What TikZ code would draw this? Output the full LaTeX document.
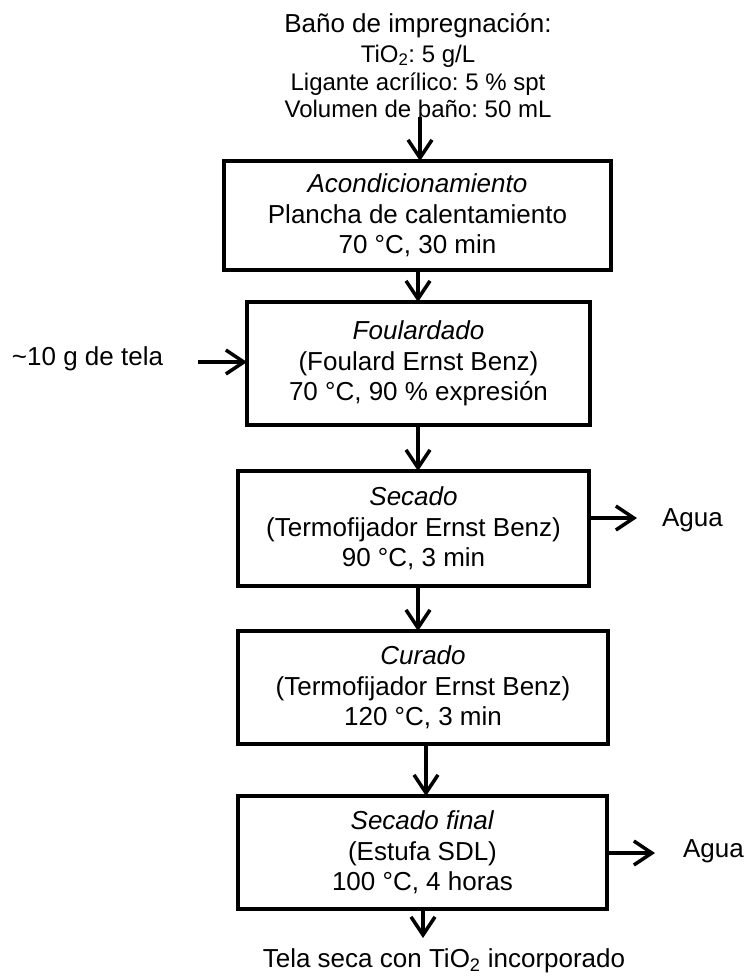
\documentclass[tikz,border=0pt]{standalone}
\usepackage{fontspec}
\setmainfont{Liberation Sans}
\usetikzlibrary{arrows.meta}
\frenchspacing
\begin{document}
\begin{tikzpicture}[x=1pt,y=-1pt,
  every node/.style={inner sep=0pt, outer sep=0pt},
  bigtxt/.style={font=\fontsize{26}{30.5}\selectfont},
  smalltxt/.style={font=\fontsize{24}{28}\selectfont},
  procbox/.style={draw, line width=3.5pt, align=center, bigtxt},
  arr/.style={line width=3.5pt, line join=miter, -{Straight Barb[length=18pt,width=24pt]}}]
\useasboundingbox (0,0) rectangle (746,977);

% top feed text
\node[bigtxt, anchor=base] (t1) at (418,32) {Baño de impregnación:};
\node[smalltxt, anchor=base] (t2) at (418,62) {TiO\textsubscript{2}: 5 g/L};
\node[smalltxt, anchor=base] (t3) at (418,90) {Ligante acrílico: 5 \% spt};
\node[smalltxt, anchor=base] (t4) at (418,117) {Volumen de baño: 50 mL};

% process boxes
\node[procbox, minimum width=387pt, minimum height=109pt] (b1) at (417.5,215.5)
  {\textit{Acondicionamiento}\\Plancha de calentamiento\\70 °C, 30 min};
\node[procbox, minimum width=343pt, minimum height=123pt] (b2) at (418.5,363.5)
  {\textit{Foulardado}\\(Foulard Ernst Benz)\\70 °C, 90 \% expresión};
\node[procbox, minimum width=351pt, minimum height=115pt] (b3) at (413.5,528.5)
  {\textit{Secado}\\(Termofijador Ernst Benz)\\90 °C, 3 min};
\node[procbox, minimum width=370pt, minimum height=113pt] (b4) at (423,687.5)
  {\textit{Curado}\\(Termofijador Ernst Benz)\\120 °C, 3 min};
\node[procbox, minimum width=369pt, minimum height=113pt] (b5) at (422.5,852.5)
  {\textit{Secado final}\\(Estufa SDL)\\100 °C, 4 horas};

% side texts
\node[bigtxt, anchor=base west] (tela) at (12,365) {\textasciitilde10 g de tela};
\node[bigtxt, anchor=base west] (agua1) at (662,526) {Agua};
\node[bigtxt, anchor=base west] (agua2) at (683,857) {Agua};
\node[bigtxt, anchor=base] (fin) at (444,967) {Tela seca con TiO\textsubscript{2} incorporado};

% axis coordinates
\coordinate (s0) at (420,117);
\coordinate (xa) at (418,0);
\coordinate (xb) at (426,0);
\coordinate (xc) at (423,0);
\coordinate (inS) at (198,362);
\coordinate (endF) at (423,938);

% connectors
\draw[arr] (s0) -- (s0 |- b1.north);
\draw[arr] (xa |- b1.south) -- (xa |- b2.north);
\draw[arr] (xa |- b2.south) -- (xa |- b3.north);
\draw[arr] (xa |- b3.south) -- (xa |- b4.north);
\draw[arr] (xb |- b4.south) -- (xb |- b5.north);
\draw[arr] (xc |- b5.south) -- (endF);
\draw[arr] (inS) -- (inS -| b2.west);
\draw[arr] ([yshift=10.5pt]b3.east) -- ++(48,0);
\draw[arr] ([yshift=-0.5pt]b5.east) -- ++(48,0);
\end{tikzpicture}
\end{document}
